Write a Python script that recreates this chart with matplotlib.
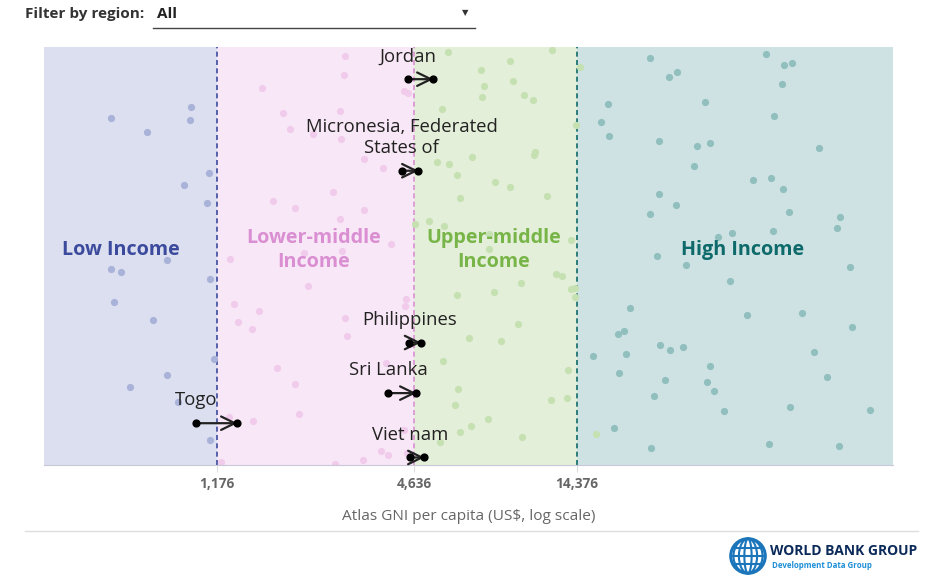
import numpy as np
import matplotlib.pyplot as plt
from matplotlib.patches import Circle, Ellipse
from matplotlib.lines import Line2D

plt.rcParams['font.family'] = ['Open Sans', 'DejaVu Sans']

# ---- data (GNI per capita US$, vertical jitter 0..1) ----
thresholds = [1176, 4636, 14376]
tick_labels = ["1,176", "4,636", "14,376"]

low_gni = [561, 984, 975, 723, 1114, 935, 1095, 832, 561, 602, 1123, 573, 753, 1149, 832, 642, 897, 1123]
low_y = [0.830, 0.857, 0.825, 0.797, 0.698, 0.671, 0.627, 0.490, 0.468, 0.462, 0.446, 0.391, 0.347,
         0.254, 0.215, 0.187, 0.151, 0.061]

lmid_gni = [2865, 2851, 1605, 4329, 4450, 1865, 2761, 1954, 2289, 2792, 3270, 3740, 2642, 1736, 2019,
            3277, 2767, 3946, 2158, 2812, 1284, 2215, 4370, 4349, 1324, 1575, 1364, 1503, 2859, 2899,
            3810, 1785, 2028, 2085, 1514, 1276, 4329, 3681, 3873, 4401, 3254, 2667, 1209]
lmid_y = [0.978, 0.934, 0.901, 0.895, 0.891, 0.841, 0.847, 0.803, 0.792, 0.781, 0.731, 0.710, 0.654,
          0.632, 0.616, 0.610, 0.589, 0.529, 0.506, 0.512, 0.494, 0.429, 0.396, 0.380, 0.385, 0.369,
          0.341, 0.325, 0.352, 0.309, 0.243, 0.231, 0.193, 0.122, 0.106, 0.116, 0.084, 0.034, 0.023,
          0.029, 0.012, 0.002, 0.008]

umid_gni = [5877, 12115, 9047, 7395, 9200, 7551, 7416, 9971, 10572, 5613, 14290, 10720, 10669, 6918,
            5432, 5918, 6257, 8117, 9028, 11704, 6376, 4663, 5139, 5716, 7818, 7802, 13771, 14700,
            12407, 12995, 9745, 8078, 6231, 13771, 14195, 14195, 9545, 6789, 8480, 5665, 13512, 6288,
            6158, 12031, 13453, 7730, 6883, 6376, 5535, 9814, 16393]
umid_y = [0.989, 0.994, 0.967, 0.945, 0.918, 0.907, 0.880, 0.886, 0.874, 0.852, 0.814, 0.748, 0.742,
          0.737, 0.726, 0.720, 0.693, 0.676, 0.666, 0.644, 0.638, 0.577, 0.583, 0.572, 0.552, 0.517,
          0.539, 0.951, 0.458, 0.451, 0.435, 0.413, 0.407, 0.420, 0.424, 0.403, 0.337, 0.304, 0.297,
          0.249, 0.227, 0.183, 0.144, 0.156, 0.161, 0.111, 0.094, 0.079, 0.056, 0.068, 0.073]

high_gni = [23909, 27237, 28907, 17852, 34974, 17040, 17981, 25449, 33151, 36209, 32469, 25449, 28589,
            23967, 38443, 42207, 25049, 30647, 41619, 20756, 19181, 19957, 25637, 27424, 30012, 16052,
            20227, 19275, 36209, 26484, 35609, 37314, 24578, 39925, 18616, 24132,
            53473, 60611, 64221, 59764, 56648, 77299, 48839, 55472, 60446, 62763, 89470, 87624, 56377,
            96114, 46852, 68843, 97655, 74664, 82085, 63316, 110697, 54825, 89047]
high_y = [0.973, 0.929, 0.940, 0.864, 0.868, 0.820, 0.786, 0.776, 0.764, 0.770, 0.715, 0.649, 0.621,
          0.600, 0.545, 0.556, 0.501, 0.479, 0.441, 0.375, 0.314, 0.320, 0.287, 0.276, 0.282, 0.260,
          0.265, 0.221, 0.238, 0.204, 0.199, 0.177, 0.166, 0.128, 0.089, 0.040,
          0.984, 0.957, 0.962, 0.912, 0.836, 0.759, 0.683, 0.687, 0.660, 0.605, 0.594, 0.566, 0.561,
          0.473, 0.358, 0.364, 0.330, 0.270, 0.210, 0.138, 0.132, 0.050, 0.045]

# highlighted countries: previous GNI -> current GNI
hl_names = ["Jordan", "Micronesia, Federated\nStates of", "Philippines", "Sri Lanka", "Togo", "Viet nam"]
hl_from = [4450, 4250, 4482, 3873, 1016, 4503]
hl_to = [5297, 4772, 4862, 4705, 1355, 4975]
hl_y = [0.923, 0.704, 0.293, 0.172, 0.100, 0.018]

# ---- styles ----
xmin, xmax = 353, 129500
band_edges = [xmin] + thresholds + [xmax]
band_bg = ["#dcdfef", "#f8e7f6", "#e4efd9", "#cee2e4"]
dot_col = ["#a9b2d8", "#f1cbeb", "#c5e0b1", "#90bfbe"]
line_col = ["#3c4a9e", "#d891d0", "#0e6a6a"]
label_col = ["#3c4a9e", "#da8fd2", "#78b548", "#0e6a6a"]
band_names = ["Low Income", "Lower-middle\nIncome", "Upper-middle\nIncome", "High Income"]
band_label_x = [603, 2310, 8078, 45350]

fig = plt.figure(figsize=(9.26, 5.76), dpi=100)
ax = fig.add_axes([44 / 926, 1 - 465 / 576, (893 - 44) / 926, (465 - 47) / 576])
ax.set_xscale('log')
ax.set_xlim(xmin, xmax)
ax.set_ylim(0, 1)

for i in range(4):
    ax.axvspan(band_edges[i], band_edges[i + 1], color=band_bg[i], lw=0, zorder=0)
for t, c in zip(thresholds, line_col):
    ax.axvline(t, color=c, lw=1.2, ls=(0, (3, 2)), zorder=1)

groups = [(low_gni, low_y), (lmid_gni, lmid_y), (umid_gni, umid_y), (high_gni, high_y)]
for (g, yv), c in zip(groups, dot_col):
    ax.scatter(g, yv, s=27, color=c, lw=0, zorder=2)

for i, name in enumerate(band_names):
    ax.text(band_label_x[i], 0.514, name, color=label_col[i], fontsize=14.2, fontweight='bold',
            ha='center', va='center', linespacing=1.25, zorder=3)

for name, x0, x1, yv in zip(hl_names, hl_from, hl_to, hl_y):
    ax.annotate("", xy=(x1, yv), xytext=(x0, yv),
                arrowprops=dict(arrowstyle='->,head_length=0.45,head_width=0.22', color='#222222',
                                lw=1.6, shrinkA=0, shrinkB=0, mutation_scale=22), zorder=4)
    ax.scatter([x0, x1], [yv, yv], s=24, color='black', zorder=5)
    ax.annotate(name, xy=(x0, yv), xytext=(0, 10), textcoords='offset points',
                ha='center', va='bottom', fontsize=13.3, color='#222222',
                linespacing=1.2, zorder=5)

for s in ['top', 'right', 'left']:
    ax.spines[s].set_visible(False)
ax.spines['bottom'].set_color('#c8c8d8')
ax.set_yticks([])
ax.minorticks_off()
ax.set_xticks(thresholds)
ax.set_xticklabels(tick_labels, fontsize=9.8, fontweight='bold', color='#666666')
ax.tick_params(axis='x', length=5, color='#dddddd', pad=3.5)
ax.set_xlabel("Atlas GNI per capita (US$, log scale)", fontsize=11.1, color='#666666', labelpad=13)

# ---- header filter ----
fig.text(25 / 926, 1 - 14 / 576, "Filter by region:", fontsize=11, fontweight='bold',
         color='#333333', va='center')
fig.text(157 / 926, 1 - 14 / 576, "All", fontsize=11, fontweight='bold', color='#222222', va='center')
fig.add_artist(Line2D([153 / 926, 475 / 926], [1 - 28 / 576] * 2, color='#444444', lw=1))
fig.text(465 / 926, 1 - 14 / 576, "\u25BC", fontsize=6, color='#333333', ha='center', va='center')

# ---- footer ----
fig.add_artist(Line2D([25 / 926, 918 / 926], [1 - 531 / 576] * 2, color='#dddddd', lw=1))
lax = fig.add_axes([728 / 926, 0, 40 / 926, 40 / 576])
lax.set_xlim(-1.1, 1.1)
lax.set_ylim(-1.1, 1.1)
lax.set_aspect('equal')
lax.axis('off')
lax.add_patch(Circle((0, 0), 0.95, fill=False, lw=2.2, ec='#1b75bb'))
for w in [0.4, 1.0, 1.6]:
    lax.add_patch(Ellipse((0, 0), w, 1.9, fill=False, lw=1.5, ec='#1b75bb'))
for yy in [-0.45, 0.0, 0.45]:
    hw = np.sqrt(0.95 ** 2 - yy ** 2)
    lax.plot([-hw, hw], [yy, yy], color='#1b75bb', lw=1.5)
fig.text(770 / 926, 1 - 551 / 576, "WORLD BANK GROUP", fontsize=10, fontweight='bold',
         color='#0b2a5a', va='center')
fig.text(772 / 926, 1 - 566 / 576, "Development Data Group", fontsize=5.7, fontweight='bold',
         color='#1e8fd6', va='center')

fig.savefig("out.png", dpi=100)
